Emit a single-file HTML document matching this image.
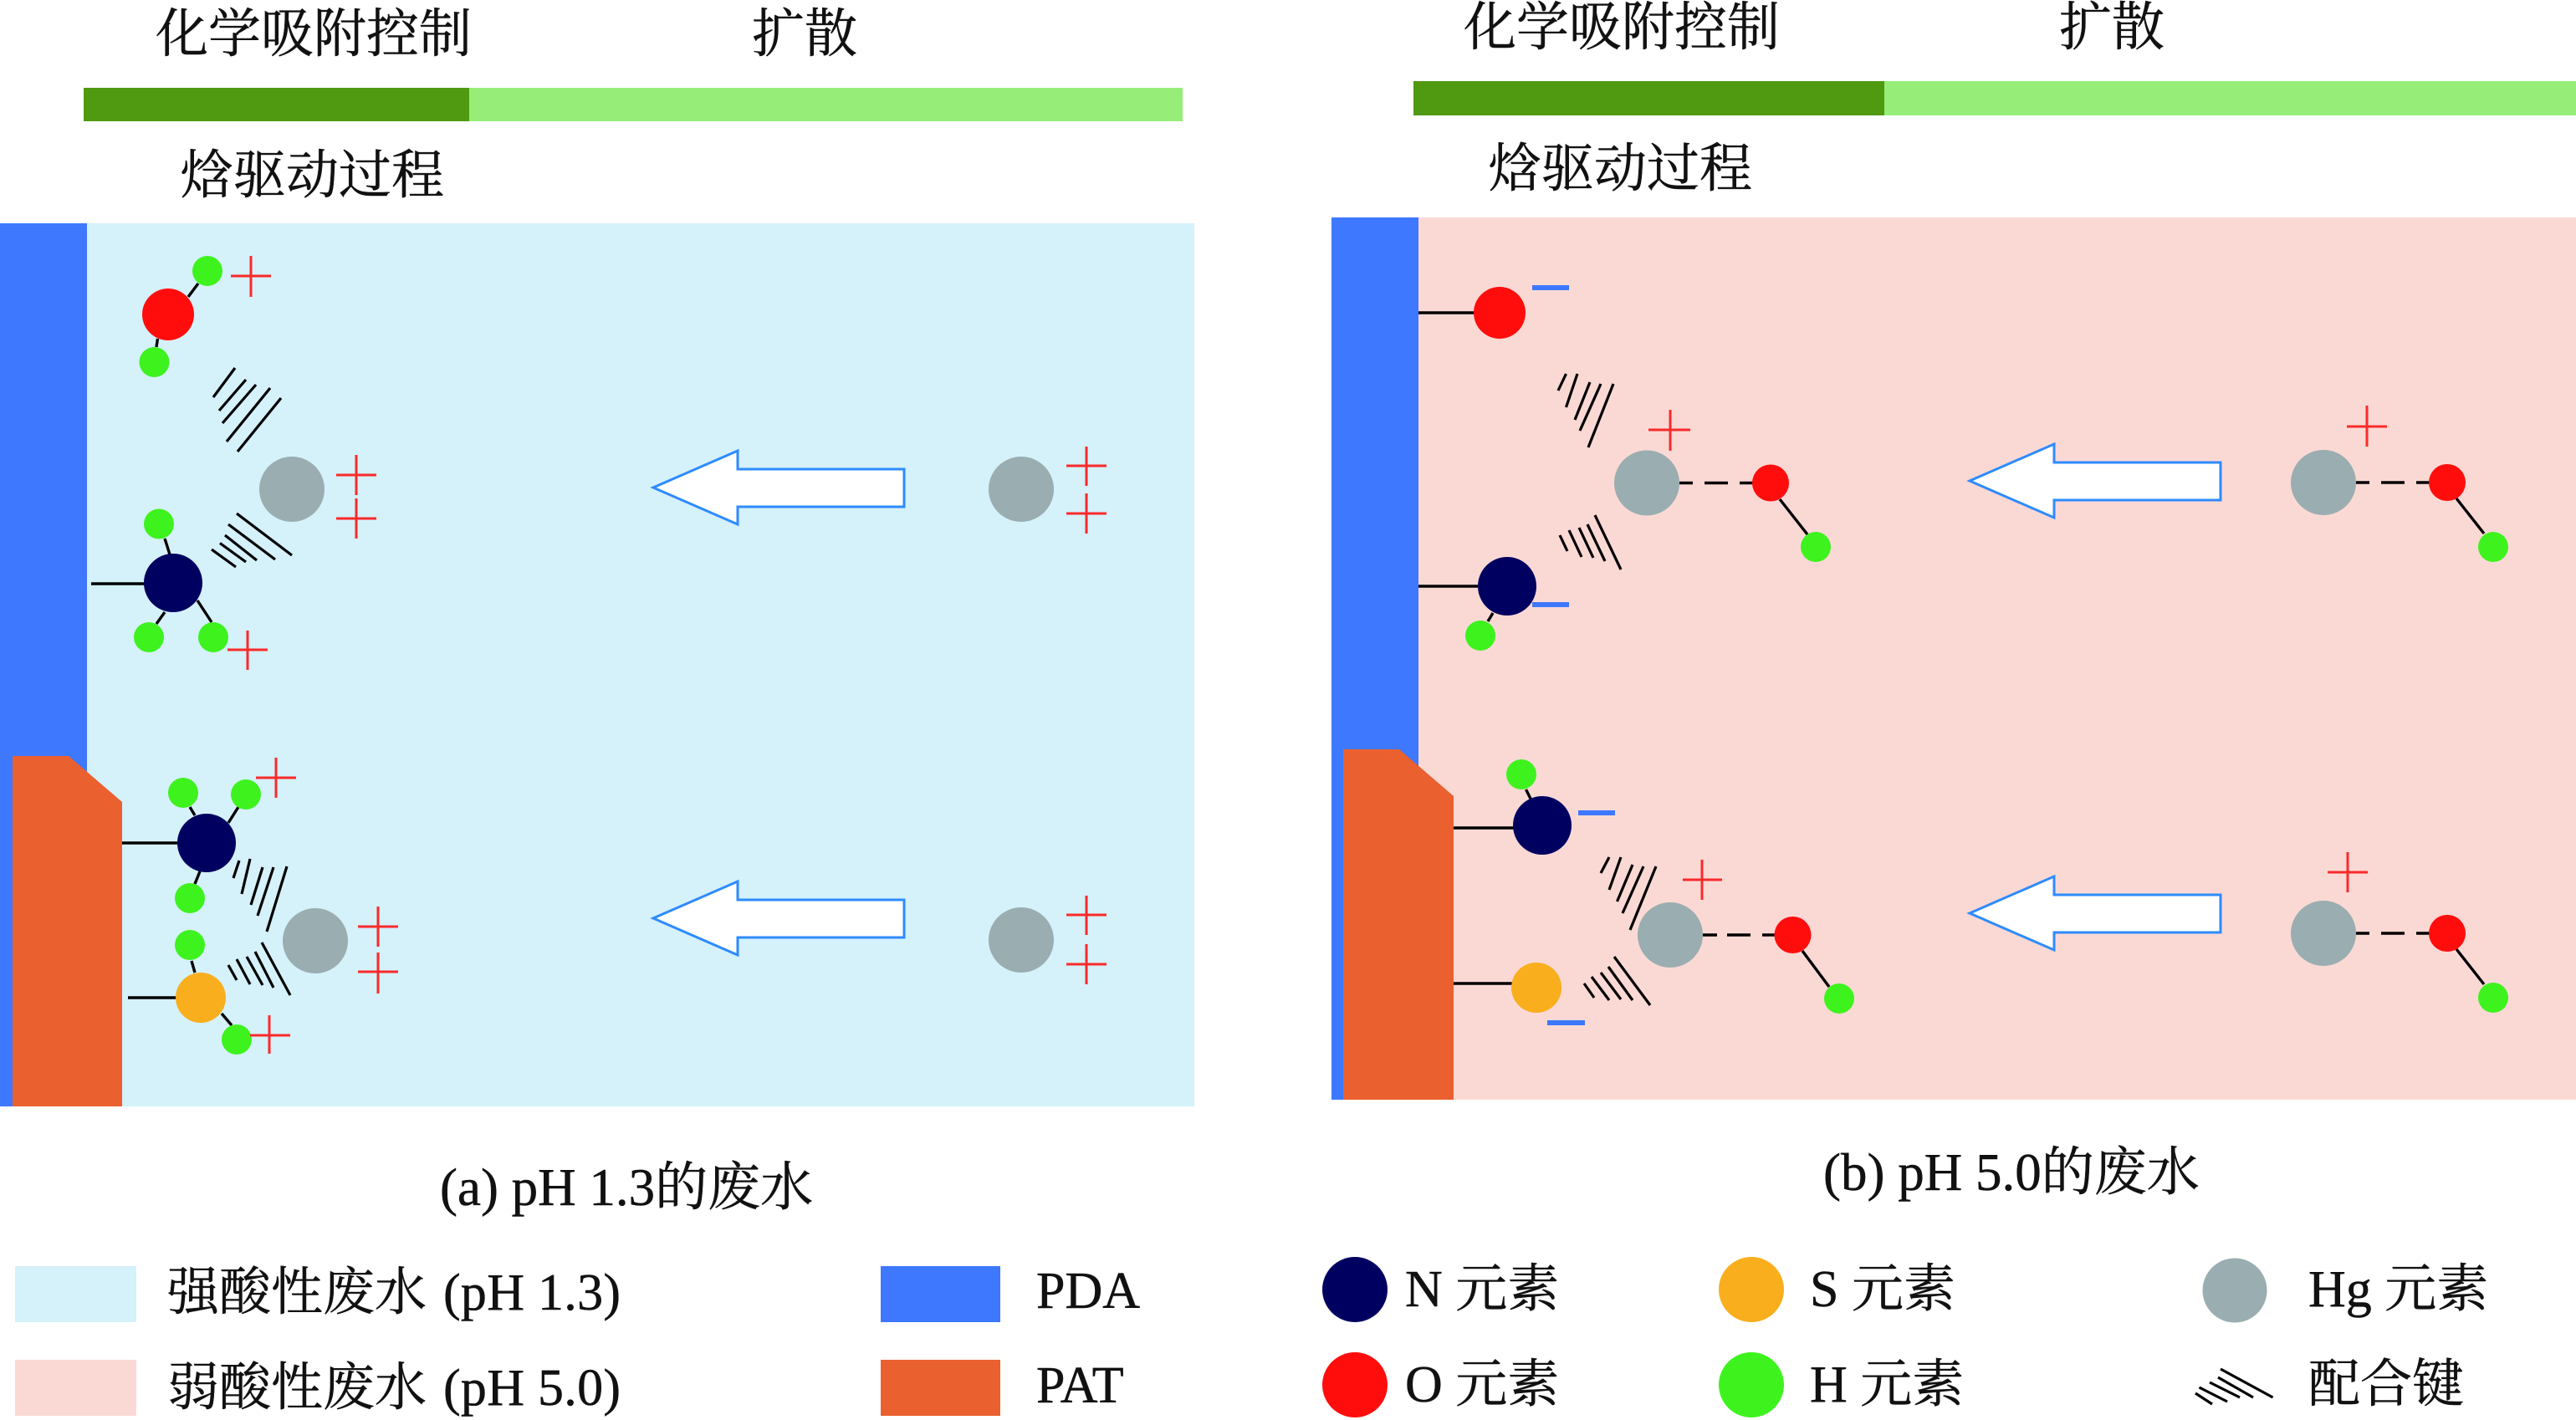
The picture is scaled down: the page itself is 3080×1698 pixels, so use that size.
<!DOCTYPE html>
<html><head><meta charset="utf-8"><style>
html,body{margin:0;padding:0;background:#fff}
svg{display:block}
text{font-family:"Liberation Serif","Noto Serif CJK SC",serif;font-size:62px;fill:#111;stroke:#111;stroke-width:.5}
.b{stroke:#000;stroke-width:3.4;fill:none}
.h{stroke:#000;stroke-width:3.2;fill:none}
.p{stroke:#fa2a2a;stroke-width:3;fill:none}
.m{fill:#3d78ff}
.ar{fill:#fff;stroke:#2e8bff;stroke-width:3}
.N{fill:#000060}.O{fill:#ff0d0d}.H{fill:#3ef21e}.S{fill:#f9ae1d}.G{fill:#9aadb0}
.t{font-size:63px}
</style></head><body>
<svg width="3080" height="1698" viewBox="0 0 3080 1698" xmlns="http://www.w3.org/2000/svg">
<rect width="3080" height="1698" fill="#fff"/>

<!-- top bars -->
<rect x="100" y="105" width="461" height="40" fill="#4f9a10"/>
<rect x="561" y="105" width="853" height="40" fill="#96ee78"/>
<rect x="1690" y="97" width="563" height="41" fill="#4f9a10"/>
<rect x="2253" y="97" width="827" height="41" fill="#96ee78"/>
<text class="t" x="186" y="62">化学吸附控制</text>
<text class="t" x="899" y="62">扩散</text>
<text class="t" x="216" y="231">焓驱动过程</text>
<text class="t" x="1750" y="54">化学吸附控制</text>
<text class="t" x="2462" y="54">扩散</text>
<text class="t" x="1780" y="223">焓驱动过程</text>

<!-- panel a -->
<rect x="0" y="267" width="1428" height="1056" fill="#d5f1fa"/>
<rect x="0" y="267" width="104" height="1056" fill="#3d78ff"/>
<polygon points="15,904 82,904 146,959 146,1323 15,1323" fill="#ea602e"/>

<!-- panel b -->
<rect x="1592" y="260" width="1488" height="1055" fill="#fad9d5"/>
<rect x="1592" y="260" width="104" height="1055" fill="#3d78ff"/>
<polygon points="1606,896 1673,896 1738,952 1738,1315 1606,1315" fill="#ea602e"/>

<!-- a top molecule -->
<path class="b" d="M225 355L237 339M188.500 405L187 415M109 698H173M197 644L203 663M197 732L187 746M236 718L253 744"/>
<circle class="O" cx="201" cy="376" r="31"/>
<circle class="H" cx="248" cy="324" r="18"/>
<circle class="H" cx="184.500" cy="433" r="18"/>
<path class="p" d="M276 330H324M300 306V355"/>
<path class="h" d="M281 440L255 475M294 454L262 491M306 460L266 506M323 464L271 528M336 476L284 540"/>
<circle class="G" cx="349" cy="585" r="39"/>
<path class="p" d="M402 568H450M426 544V592M402 620H450M426 596V644"/>
<path class="h" d="M283 614L349 664M273 627L329 669M269 640L307 670M263 649.500L294 672M253 657L282 678"/>
<circle class="N" cx="207" cy="697" r="35"/>
<circle class="H" cx="190" cy="626.500" r="18"/>
<circle class="H" cx="178" cy="762" r="18"/>
<circle class="H" cx="255" cy="762" r="18"/>
<path class="p" d="M272 777H320M296 754V801"/>

<!-- a bottom molecule -->
<path class="b" d="M146 1008H212M227 965L233 975M285 965L273 984M239 1042L233 1057M229 1149L233 1163M153 1193H211M265 1212L277 1226"/>
<circle class="N" cx="247" cy="1008" r="35"/>
<circle class="H" cx="219" cy="948" r="18"/>
<circle class="H" cx="294" cy="950" r="18"/>
<circle class="H" cx="227" cy="1074" r="18"/>
<circle class="H" cx="227" cy="1130" r="18"/>
<circle class="H" cx="283" cy="1243" r="18"/>
<circle class="S" cx="240" cy="1193" r="30"/>
<circle class="G" cx="377" cy="1125" r="39"/>
<path class="p" d="M306 930H354M330 906V954M428 1108H476M452 1084V1132M428 1162H476M452 1139V1188M299 1238H347M322 1214V1260"/>
<path class="h" d="M286 1029L279 1050M299 1027L289 1069M314 1037L300 1082M327 1037L308 1095M343 1036L319 1114M313 1127L347 1190M305 1138L327 1181M295 1144L314 1178M283 1147L299 1177M273 1154L283 1172"/>

<!-- a arrows + free ions -->
<polygon class="ar" points="781,583 882,539 882,561 1081,561 1081,606 882,606 882,627"/>
<circle class="G" cx="1221" cy="585" r="39"/>
<path class="p" d="M1275 557H1323M1299 534V581M1275 614H1323M1299 590V638"/>
<polygon class="ar" points="781,1098 882,1054 882,1076 1081,1076 1081,1121 882,1121 882,1142"/>
<circle class="G" cx="1221" cy="1124" r="39"/>
<path class="p" d="M1275 1094H1323M1299 1071V1118M1275 1153H1323M1299 1129V1177"/>

<!-- b top -->
<path class="b" d="M1696 374H1762M1696 701H1767M1785 733L1779 743"/>
<circle class="O" cx="1793" cy="374" r="31"/>
<rect class="m" x="1832" y="341" width="44" height="6"/>
<path class="h" d="M1872.500 447L1863 467M1886 447L1872.500 487M1901 457L1883 502M1914 459L1889 515M1929 459L1899 535M1907 616L1938 681M1898 627L1919 671M1888 631L1905 667M1876 634L1891 666M1865 640L1874 659"/>
<circle class="G" cx="1969" cy="577.500" r="39"/>
<path class="p" d="M1971 514H2021M1997 490V539"/>
<path class="b" d="M2008 577.500H2024M2038 577.500H2066M2080 577.500H2096M2128 597L2161 639"/>
<circle class="O" cx="2117" cy="577.500" r="22"/>
<circle class="H" cx="2171" cy="654" r="18"/>
<circle class="N" cx="1802" cy="701" r="35"/>
<rect class="m" x="1832" y="720" width="44" height="6"/>
<circle class="H" cx="1770" cy="760" r="18"/>

<!-- b bottom -->
<path class="b" d="M1824.500 944L1830 955M1738 990H1810M1738 1176H1808"/>
<circle class="H" cx="1819" cy="926" r="18"/>
<circle class="N" cx="1844" cy="987" r="35"/>
<rect class="m" x="1887" y="969" width="44" height="6"/>
<path class="h" d="M1924 1025L1914 1044M1938 1025L1924 1064M1952 1034L1933.500 1078M1965 1036L1940 1092M1980 1036L1949 1112M1930 1144L1973 1202M1923 1156L1952 1196M1914 1163L1938 1195M1903 1168L1924 1196M1894 1176L1906 1193"/>
<circle class="G" cx="1997" cy="1118" r="39"/>
<path class="p" d="M2012 1052H2059M2035 1028V1076"/>
<path class="b" d="M2036 1118H2053M2065 1118H2093M2107 1118H2122M2155 1137L2187 1180"/>
<circle class="O" cx="2143.500" cy="1118" r="22"/>
<circle class="H" cx="2199" cy="1194" r="18"/>
<circle class="S" cx="1837" cy="1181" r="30"/>
<rect class="m" x="1850" y="1220" width="45" height="6"/>

<!-- b arrows + free -->
<polygon class="ar" points="2355,575 2456,531 2456,553 2655,553 2655,598 2456,598 2456,619"/>
<circle class="G" cx="2778" cy="577" r="39"/>
<path class="p" d="M2806 510H2854M2830 485V534"/>
<path class="b" d="M2817 577H2833M2847 577H2875M2889 577H2905M2937 596L2970 638"/>
<circle class="O" cx="2926" cy="577" r="22"/>
<circle class="H" cx="2981" cy="654" r="18"/>

<polygon class="ar" points="2355,1092 2456,1048 2456,1070 2655,1070 2655,1115 2456,1115 2456,1136"/>
<circle class="G" cx="2778" cy="1116" r="39"/>
<path class="p" d="M2783 1043H2831M2807 1019V1067"/>
<path class="b" d="M2817 1116H2833M2847 1116H2875M2889 1116H2905M2937 1135L2970 1177"/>
<circle class="O" cx="2926" cy="1116" r="22"/>
<circle class="H" cx="2981" cy="1193" r="18"/>

<!-- captions -->
<text class="t" x="526" y="1441">(a) pH 1.3的废水</text>
<text class="t" x="2180" y="1423">(b) pH 5.0的废水</text>

<!-- legend -->
<rect x="18" y="1514" width="145" height="67" fill="#d5f1fa"/>
<rect x="18" y="1626" width="145" height="67" fill="#fad9d5"/>
<text x="200" y="1566">强酸性废水</text><text x="530" y="1566" textLength="212">(pH 1.3)</text>
<text x="200" y="1680">弱酸性废水</text><text x="530" y="1680" textLength="212">(pH 5.0)</text>
<rect x="1053" y="1514" width="143" height="67" fill="#3d78ff"/>
<rect x="1053" y="1626" width="143" height="67" fill="#ea602e"/>
<text x="1239" y="1564">PDA</text>
<text x="1239" y="1677">PAT</text>
<circle class="N" cx="1620" cy="1542" r="39"/>
<circle class="O" cx="1620" cy="1656" r="39"/>
<text x="1680" y="1562">N 元素</text>
<text x="1680" y="1676">O 元素</text>
<circle class="S" cx="2094" cy="1542" r="39"/>
<circle class="H" cx="2094" cy="1656" r="39"/>
<text x="2164" y="1562">S 元素</text>
<text x="2164" y="1676">H 元素</text>
<circle class="G" cx="2672" cy="1543" r="38.500"/>
<text x="2760" y="1562">Hg 元素</text>
<text x="2760" y="1676">配合键</text>
<path class="h" d="M2655 1637L2717.500 1671M2652 1647L2694 1671M2642 1653L2678 1671M2629.500 1659L2663 1676M2625 1666L2645 1679"/>
</svg>
</body></html>
